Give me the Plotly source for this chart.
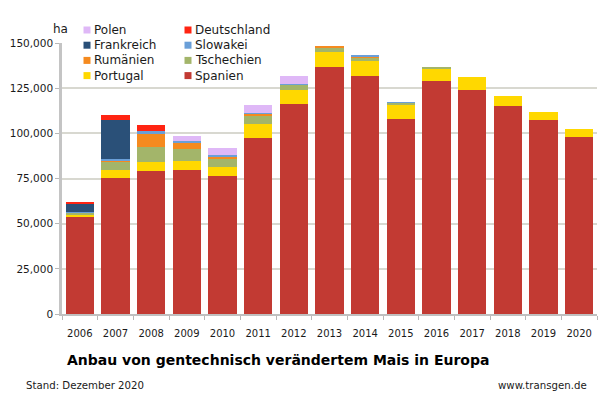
import plotly.graph_objects as go

years = [str(y) for y in range(2006, 2021)]

spanien = [53700, 75150, 79300, 79800, 76500, 97300, 116300, 136900, 131600, 107800, 129000, 124100, 115300, 107200, 98200]
portugal = [1250, 4500, 4850, 5000, 4800, 7700, 7700, 8200, 8400, 8100, 7150, 6950, 5400, 4800, 4150]
tschechien = [1300, 5000, 8350, 6450, 4700, 5000, 3100, 2300, 2000, 1000, 80, 0, 0, 0, 0]
rumaenien = [0, 350, 7150, 3550, 1300, 1000, 200, 1200, 800, 0, 0, 0, 0, 0, 0]
slowakei = [30, 900, 1900, 850, 900, 500, 100, 0, 400, 300, 0, 0, 0, 0, 0]
frankreich = [5000, 21600, 0, 0, 0, 0, 0, 0, 0, 0, 0, 0, 0, 0, 0]
deutschland = [950, 2900, 3200, 0, 0, 0, 0, 0, 0, 0, 0, 0, 0, 0, 0]
polen = [0, 0, 0, 3000, 3800, 4400, 4100, 0, 0, 0, 0, 0, 0, 0, 0]

series = [
    ("Spanien", spanien, "#c23a33"),
    ("Portugal", portugal, "#ffd800"),
    ("Tschechien", tschechien, "#a3b56a"),
    ("Rumänien", rumaenien, "#f58a1f"),
    ("Slowakei", slowakei, "#6a9fd8"),
    ("Frankreich", frankreich, "#2a5078"),
    ("Deutschland", deutschland, "#ff2412"),
    ("Polen", polen, "#dfb8f7"),
]
colors = {name: color for name, _, color in series}

# legend layout of the original: two columns, top to bottom
legend_columns = [
    ["Polen", "Frankreich", "Rumänien", "Portugal"],
    ["Deutschland", "Slowakei", "Tschechien", "Spanien"],
]

WIDTH, HEIGHT = 610, 407
LEFT, RIGHT, TOP, BOTTOM = 62, 13, 43, 93
FONT = "DejaVu Sans"


def paper_x(px):
    return (px - LEFT) / (WIDTH - LEFT - RIGHT)


def paper_y(py):
    return 1 - (py - TOP) / (HEIGHT - TOP - BOTTOM)


fig = go.Figure()
for name, values, color in series:
    fig.add_trace(
        go.Bar(
            x=years,
            y=values,
            name=name,
            marker_color=color,
            marker_line_width=0,
            hovertemplate="%{x}: %{y:,} ha<extra>" + name + "</extra>",
        )
    )

annotations = []
shapes = []


def add_text(text, px, py, size, anchor="left", color="#1a1a1a", bold=False):
    annotations.append(
        dict(
            text=f"<b>{text}</b>" if bold else text,
            xref="paper",
            yref="paper",
            x=paper_x(px),
            y=paper_y(py),
            xanchor=anchor,
            yanchor="middle",
            showarrow=False,
            align=anchor,
            font=dict(family=FONT, size=size, color=color),
        )
    )


for col, names in enumerate(legend_columns):
    swatch_x = 87 + col * 101
    for row, name in enumerate(names):
        row_y = 30 + row * 15.2
        shapes.append(
            dict(
                type="rect",
                xref="paper",
                yref="paper",
                x0=paper_x(swatch_x - 3.5),
                x1=paper_x(swatch_x + 3.5),
                y0=paper_y(row_y + 3.5),
                y1=paper_y(row_y - 3.5),
                fillcolor=colors[name],
                line_width=0,
            )
        )
        add_text(name, swatch_x + 5, row_y, 12)

add_text("ha", 51, 29, 12)
add_text("Anbau von gentechnisch verändertem Mais in Europa", 65, 360, 14, bold=True, color="#000000")
add_text("Stand: Dezember 2020", 24, 385, 10.2)
add_text("www.transgen.de", 589, 385, 10.2, anchor="right")

fig.update_layout(
    width=WIDTH,
    height=HEIGHT,
    barmode="stack",
    bargap=0.21,
    showlegend=False,
    plot_bgcolor="white",
    paper_bgcolor="white",
    margin=dict(l=LEFT, r=RIGHT, t=TOP, b=BOTTOM, autoexpand=False),
    font=dict(family=FONT, size=10, color="#1a1a1a"),
    annotations=annotations,
    shapes=shapes,
)
fig.update_xaxes(
    type="category",
    tickson="boundaries",
    ticks="outside",
    ticklen=4,
    tickcolor="#b8b8b8",
    showline=True,
    linecolor="#c0c0c0",
    linewidth=1.5,
    showgrid=False,
    ticklabelstandoff=9,
    tickfont=dict(size=10),
)
fig.update_yaxes(
    range=[0, 150000],
    tick0=0,
    dtick=25000,
    tickformat=",d",
    ticks="outside",
    ticklen=4,
    tickcolor="#b8b8b8",
    showline=True,
    linecolor="#c4c4c4",
    linewidth=2.5,
    gridcolor="#d8d8d0",
    gridwidth=1.5,
    zeroline=False,
    tickfont=dict(size=10.5),
)

# the page's default body margin would push the figure 8px right and down
fig.write_html(
    "out.html",
    config={"displayModeBar": False},
    post_script="document.body.style.margin = '0';",
)
